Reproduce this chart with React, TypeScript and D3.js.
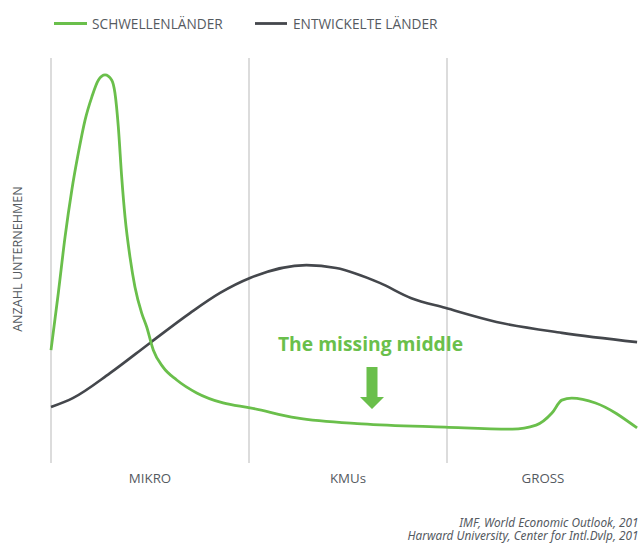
import React from "react";
import * as d3 from "d3";

const categories = ["MIKRO", "KMUs", "GROSS"];
const seriesNames = ["SCHWELLENLÄNDER", "ENTWICKELTE LÄNDER"];
const sourceLines = ["IMF, World Economic Outlook, 2015", "Harward University, Center for Intl.Dvlp, 2015"];

// x in category units (0 = left border of MIKRO, 1 = MIKRO|KMUs, 2 = KMUs|GROSS)
const emergingX = [0, 0.037, 0.071, 0.105, 0.138, 0.172, 0.206, 0.239, 0.273, 0.307, 0.323, 0.34, 0.357, 0.374, 0.399, 0.424, 0.458, 0.483, 0.517, 0.566, 0.635, 0.736, 0.869, 1.005, 1.24, 1.57, 1.99, 2.33, 2.45, 2.53, 2.58, 2.63, 2.75, 2.96];
const emergingY = [27.5, 41.7, 55.6, 67.2, 76.4, 84.6, 90.3, 94.5, 95.8, 94.5, 91.3, 82.9, 70.5, 60.5, 50.6, 43.2, 36.7, 33.3, 27.5, 23.3, 20.1, 16.9, 14.4, 13.2, 10.7, 9.2, 8.4, 7.9, 8.9, 11.9, 15.1, 15.6, 14.4, 8.2];

const developedX = [0, 0.11, 0.298, 0.5, 0.702, 0.854, 1.005, 1.29, 1.44, 1.66, 1.82, 1.99, 2.25, 2.58, 2.96];
const developedY = [13.4, 15.6, 21.8, 29.3, 36.7, 41.7, 45.4, 48.6, 47.9, 44.2, 40.4, 38.0, 34.5, 31.8, 29.5];

const GREEN = "#6abf4b";
const DARK = "#44474c";
const GRID = "#c9c9c9";
const TEXT = "#555a5f";

export default function App() {
  const W = 638, H = 543;
  const x = d3.scaleLinear().domain([0, 1]).range([51, 249]);
  const y = d3.scaleLinear().domain([0, 100]).range([461, 58]);
  const line = d3.line<[number, number]>().x(d => x(d[0])).y(d => y(d[1])).curve(d3.curveMonotoneX);
  const greenPts = emergingX.map((v, i) => [v, emergingY[i]] as [number, number]);
  const darkPts = developedX.map((v, i) => [v, developedY[i]] as [number, number]);
  const font = "'Open Sans', sans-serif";
  return (
    <svg width={W} height={H} style={{ position: "absolute", left: 0, top: 0, background: "#fff" }}>
      {[0, 1, 2].map(i => (
        <line key={i} x1={x(i)} x2={x(i)} y1={58} y2={463} stroke={GRID} strokeWidth={1.3} />
      ))}
      {/* legend */}
      <line x1={54} x2={87} y1={23.5} y2={23.5} stroke={GREEN} strokeWidth={2.8} />
      <text x={92} y={28.5} fontFamily={font} fontSize={13.7} fill={TEXT}>{seriesNames[0]}</text>
      <line x1={255} x2={287} y1={23.5} y2={23.5} stroke={DARK} strokeWidth={2.8} />
      <text x={293} y={28.5} fontFamily={font} fontSize={13.7} fill={TEXT}>{seriesNames[1]}</text>
      {/* y label */}
      <text transform="translate(22,259) rotate(-90)" textAnchor="middle" fontFamily={font} fontSize={12.6} fill={TEXT}>ANZAHL UNTERNEHMEN</text>
      {/* lines */}
      <path d={line(darkPts) || ""} fill="none" stroke={DARK} strokeWidth={2.6} />
      <path d={line(greenPts) || ""} fill="none" stroke={GREEN} strokeWidth={2.8} />
      {/* annotation */}
      <text x={370.5} y={351} textAnchor="middle" fontFamily={font} fontWeight={700} fontSize={19.3} fill={GREEN}>The missing middle</text>
      <path d="M366.5,367 L377.5,367 L377.5,397 L384,397 L372,409 L360,397 L366.5,397 Z" fill={GREEN} />
      {/* categories */}
      {categories.map((c, i) => (
        <text key={c} x={x(i + 0.5) + (i === 2 ? -3 : 0)} y={483} textAnchor="middle" fontFamily={font} fontSize={13.3} fill={TEXT}>{c}</text>
      ))}
      {/* source */}
      {sourceLines.map((s, i) => (
        <text key={s} x={645} y={527 + i * 12.5} textAnchor="end" fontFamily="'Noto Sans', sans-serif" fontStyle="italic" fontSize={11.8} fill={TEXT}>{s}</text>
      ))}
    </svg>
  );
}
